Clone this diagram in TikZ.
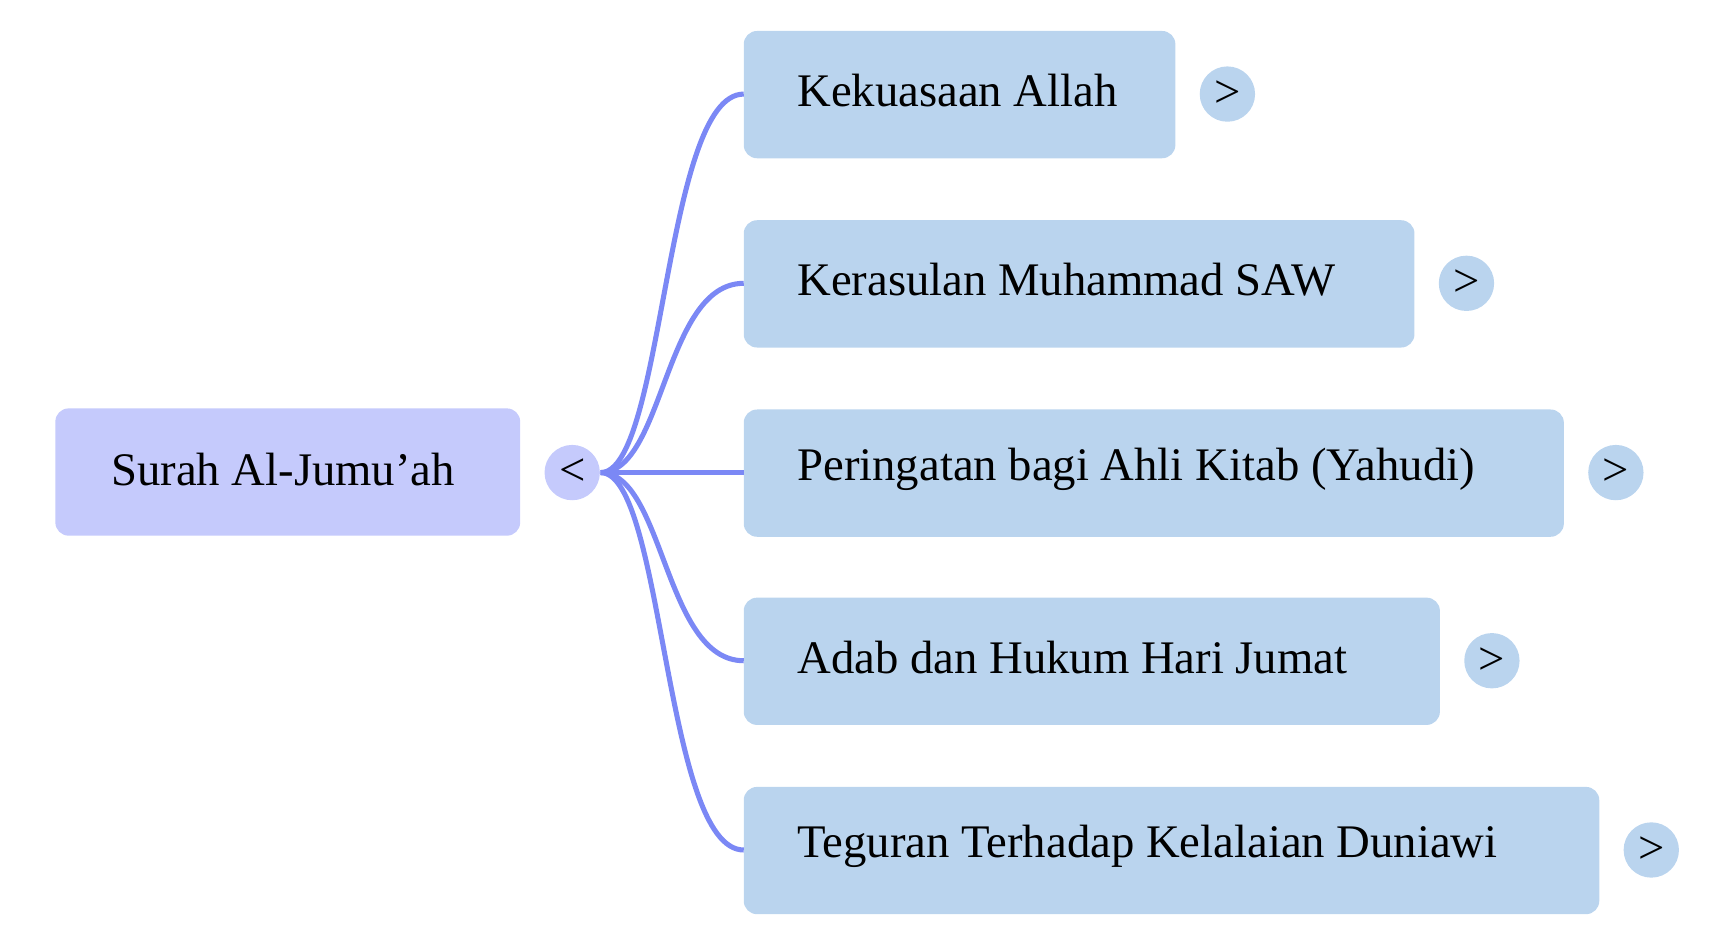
\documentclass[tikz,border=0pt]{standalone}
\usepackage{fontspec}
\setmainfont{Liberation Serif}
\begin{document}
\begin{tikzpicture}[x=0.01cm,y=-0.01cm,
  box/.style={rounded corners=12*0.01cm,inner sep=0,anchor=north west},
  lbl/.style={font=\fontsize{12}{14}\selectfont,anchor=west},
  btn/.style={circle,minimum size=50*0.01cm,inner sep=0,fill=#1,font=\fontsize{12}{14}\selectfont},
  conn/.style={draw=lineblue,line width=1.3pt}]
\definecolor{rootfill}{HTML}{C5CAFC}
\definecolor{childfill}{HTML}{BAD4EE}
\definecolor{lineblue}{HTML}{7B88F5}
\useasboundingbox (0,0) rectangle (1555,846);
% root
\fill[rootfill,rounded corners=12*0.01cm] (50,369) rectangle (470,484);
\node[lbl] (root) at (88,424) {Surah Al-Jumu'ah};
\node[btn=rootfill] (c) at (517,427) {<};
% children
\foreach \n/\y/\r/\t in {a/85/1062/Kekuasaan Allah, b/256/1278/Kerasulan Muhammad SAW, d/427/1413/Peringatan bagi Ahli Kitab (Yahudi), e/597/1301/Adab dan Hukum Hari Jumat, f/768/1445/Teguran Terhadap Kelalaian Duniawi}{
  \fill[childfill,rounded corners=12*0.01cm] (672,\y-57) rectangle (\r,\y+58);
  \coordinate (\n) at (672,\y);
  \node[lbl] (\n t) at (708,\y-3) {\t};
  \node[btn=childfill] (\n b) at (\r+47,\y) {>};
  \draw[conn] (c.east) .. controls (600,427) and (600,\y) .. (\n);
}
\end{tikzpicture}
\end{document}
